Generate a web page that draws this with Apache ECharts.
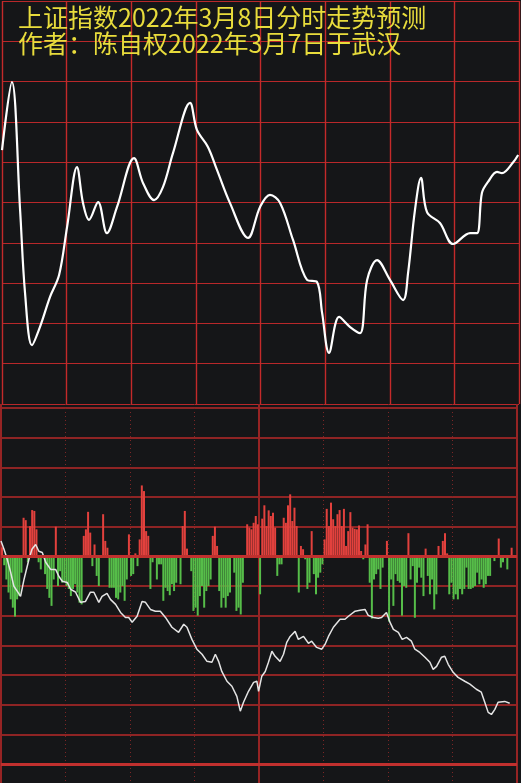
<!DOCTYPE html>
<html><head><meta charset="utf-8">
<script src="https://cdn.jsdelivr.net/npm/echarts@6/dist/echarts.min.js"></script>
<style>html,body{margin:0;padding:0;background:#151618;}#c{width:521px;height:783px;}</style>
</head><body><div id="c"></div>
<script>
var titleLine1 = '上证指数2022年3月8日分时走势预测';
var titleLine2 = '作者：陈自权2022年3月7日于武汉';

// top panel: predicted intraday curve [minute, level]
var topMinutes = [0,4.6,8.4,10.7,13.9,17.6,22.3,26.5,30.2,34.8,37.6,40.4,44.6,48.7,53.4,61.3,65.5,70.6,74.7,79.4,87.3,90.5,95.6,99.8,105.8,114.2,119.8,124.4,129.1,135.1,141.6,146.2,148.6,151.8,156.5,161.6,166.2,169.5,174.1,180.1,186.2,188.5,191.7,194.5,197.3,203.3,209.4,217.3,220.5,222.8,225.6,229.8,232.1,237.3,239.6];
var topLevels = [6.30,7.99,4.81,2.75,1.46,1.91,2.66,3.20,4.39,5.88,4.99,4.57,5.01,4.24,4.89,6.10,5.48,5.06,5.38,6.23,7.47,6.80,6.38,5.81,4.99,4.12,4.89,5.19,4.99,4.07,3.08,3.03,2.26,1.27,2.16,1.91,1.76,3.08,3.57,3.08,2.58,3.25,4.81,5.61,4.76,4.49,3.97,4.24,4.24,5.24,5.51,5.76,5.73,6.00,6.18];

// bottom panel: per-minute red/green bars
var barValues = [0.3,-0.3,-0.78,-1.22,-1.45,-1.73,-2.03,-1.45,-1.34,-0.55,
1.3,1.22,-0.2,1.02,1.56,1.53,0.91,-0.2,-0.44,0,
-0.6,-1.1,-1.4,-1.67,-0.78,1.0,-1.0,-0.5,-0.89,-0.83,
-1.0,-1.1,-1.34,-1.1,-0.94,-1.22,-1.56,-1.62,0.69,0.91,
1.5,0.8,-0.33,0.4,-0.66,-1.0,0,1.42,0.52,0.29,
-1.06,-1.06,-1.06,-1.4,-1.45,-1.22,-1.0,-1.5,-0.78,0.74,
-0.66,-0.6,0.1,-0.33,0.57,2.39,2.2,0.85,0.69,-1.1,
-0.2,0,-0.78,-0.27,-0.27,-1.5,-1.06,-1.17,-1.31,-0.94,
-1.17,-0.89,0,-0.94,1.02,1.53,0.26,0,-0.5,-1.84,
-1.73,-2.0,-1.34,-1.0,-1.73,-1.17,-1.0,-0.78,0.69,1.0,
0.35,-1.17,-1.73,-1.4,-1.73,-1.34,-1.22,0,-0.55,-1.84,
-1.73,-1.96,-0.89,0,1.08,0.97,0.91,1.13,1.36,1.08,
-1.28,1.27,1.72,1.02,1.55,1.36,1.47,0.97,-0.66,-0.27,
-0.27,1.3,1.13,1.72,2.09,1.19,1.64,1.02,-1.22,0.35,
0.24,-0.1,-1.1,-0.89,0.85,-0.6,-1.28,-0.72,-0.55,-0.27,
0.57,1.6,1.02,1.81,1.25,1.02,1.42,1.56,1.02,1.6,
0.35,0.85,1.49,0.97,0.93,0.91,1.04,0.18,-0.1,0.4,
1.08,-0.89,-2.1,-0.78,-0.6,-0.44,-1.1,-0.38,0,0.52,
-2.2,-0.78,-1.67,-0.6,-0.83,-0.89,-2.0,-1.0,-1.06,0.78,
-0.78,-0.33,-2.07,-0.89,-0.38,-0.72,-1.34,0.26,-0.66,-1.28,
-0.78,-1.79,-1.28,0.35,0,0.52,0.78,0.1,-1.28,-0.89,
-1.45,-1.28,-1.45,-1.1,-1.28,-1.1,-0.38,-1.1,-1.1,-1.06,
-1.0,-0.55,-0.94,-0.78,-1.06,-0.94,-0.66,-0.66,0,-0.16,
0,0.6,-0.38,-0.2,0,-0.44,0,0.29,0,0];

// bottom panel: white cumulative line [minute, value]
var lineMinutes = [0,1.4,2.9,4.5,6.0,7.6,9.1,10.7,13.0,14.4,16.1,17.6,19.2,20.8,23.1,25.4,26.9,28.5,30.8,32.4,34.7,37.0,39.3,41.6,43.2,45.5,47.0,49.3,50.9,53.3,55.6,57.9,59.4,61.0,63.3,65.6,67.2,69.5,71.8,74.1,76.5,79.5,82.6,85.0,86.5,88.8,91.1,93.5,95.8,98.1,99.7,101.2,102.7,105.1,107.4,109.7,111.3,112.8,115.1,117.5,119.0,119.8,121.3,122.9,124.4,126.0,127.5,129.8,131.4,132.9,134.5,136.8,138.3,140.7,143.0,144.5,146.8,149.2,150.7,152.3,154.6,157.7,160.0,161.6,164.7,167.0,169.3,170.8,173.2,175.5,177.0,179.3,180.9,182.5,184.8,186.6,188.6,190.9,192.5,194.8,197.2,199.5,201.0,202.6,204.9,206.4,208.0,210.3,212.6,215.7,218.1,221.1,223.4,225.0,226.6,228.1,229.7,231.2,234.3,236.6];
var lineValues = [0.52,0.24,-0.10,-0.54,-1.01,-1.18,-1.35,-0.78,-0.10,0.24,0.40,0.17,0.13,-0.20,-0.44,-0.44,-0.67,-0.84,-0.88,-1.11,-1.21,-1.55,-1.52,-1.21,-1.21,-1.55,-1.35,-1.25,-1.45,-1.62,-1.89,-2.06,-2.06,-2.22,-2.02,-1.52,-1.55,-1.79,-1.85,-1.85,-2.06,-2.39,-2.56,-2.29,-2.39,-2.80,-3.13,-3.30,-3.54,-3.57,-3.30,-3.54,-3.88,-4.21,-4.38,-4.72,-5.22,-4.92,-4.55,-4.25,-4.21,-4.55,-4.04,-3.88,-3.57,-3.20,-3.37,-3.54,-3.30,-2.90,-2.70,-2.53,-2.80,-2.70,-2.93,-2.86,-3.07,-3.13,-2.97,-2.70,-2.39,-2.12,-2.12,-2.02,-1.85,-1.82,-1.79,-1.99,-2.06,-2.09,-2.06,-1.89,-2.22,-2.46,-2.56,-2.80,-2.73,-2.86,-3.13,-3.24,-3.40,-3.57,-3.81,-3.71,-3.40,-3.37,-3.64,-3.91,-4.08,-4.21,-4.31,-4.48,-4.58,-4.92,-5.26,-5.33,-5.16,-4.92,-4.89,-4.95];

var RED = '#e2413d', GREEN = '#56bd49';
var topData = topMinutes.map(function(m,i){return [m, topLevels[i]];});
var barData = barValues.map(function(v,i){return [i+0.5, v];});
var lineData = lineMinutes.map(function(m,i){return [m, lineValues[i]];});

var chart = echarts.init(document.getElementById('c'), null, {renderer:'canvas'});
function hiddenX(idx, interval, split){
  return {type:'value', gridIndex:idx, min:0, max:240, interval:interval,
    axisLine:{show:false}, axisTick:{show:false}, axisLabel:{show:false},
    splitLine: split || {show:false}};
}
chart.setOption({
  backgroundColor:'#151618',
  animation:false,
  title:{text: titleLine1 + '\n' + titleLine2, left:13, top:-1,
    textStyle:{color:'#e8dc3c', fontSize:25, lineHeight:26, fontWeight:'normal', fontFamily:'"Noto Sans CJK SC"'}},
  grid:[
    {left:2, right:2, top:1, height:403},
    {left:1, right:4, top:408, height:356},
    {left:1, right:4, top:404, bottom:0},
    {left:1, right:4, top:404, bottom:0}
  ],
  xAxis:[
    hiddenX(0, 30, {show:true, lineStyle:{color:'#c42a2a', width:1.4}}),
    hiddenX(1, 30),
    hiddenX(2, 30, {show:true, lineStyle:{color:'#7c2626', width:1, type:[1,3]}}),
    hiddenX(3, 120, {show:true, lineStyle:{color:'#962424', width:2}})
  ],
  yAxis:[
    {type:'value', gridIndex:0, min:0, max:10, interval:1, axisLine:{show:false}, axisTick:{show:false}, axisLabel:{show:false},
      splitLine:{show:true, lineStyle:{color:'#b8282a', width:1.2}}},
    {type:'value', gridIndex:1, min:-7, max:5, interval:1, axisLine:{show:false}, axisTick:{show:false}, axisLabel:{show:false},
      splitLine:{show:true, lineStyle:{color:'#8e2424', width:2}}},
    {type:'value', gridIndex:2, min:0, max:1, show:false},
    {type:'value', gridIndex:3, min:0, max:1, show:false}
  ],
  series:[
    {type:'line', xAxisIndex:0, yAxisIndex:0, data:topData, smooth:0.35, symbol:'none',
      lineStyle:{color:'#ffffff', width:2.2}},
    {type:'bar', xAxisIndex:1, yAxisIndex:1, data:barData, barWidth:2,
      itemStyle:{color:function(p){return p.value[1] >= 0 ? RED : GREEN;}},
      markLine:{symbol:'none', silent:true, label:{show:false},
        lineStyle:{color:'#c0302e', width:3, type:'solid'},
        data:[{yAxis:0},{yAxis:-7}]}},
    {type:'line', xAxisIndex:1, yAxisIndex:1, data:lineData, symbol:'none',
      lineStyle:{color:'#e4e4e4', width:1.5}}
  ]
});
</script></body></html>
